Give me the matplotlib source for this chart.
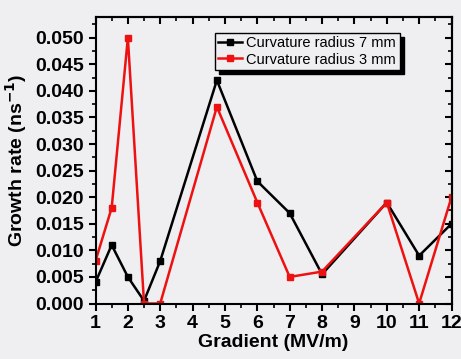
import matplotlib.pyplot as plt
from matplotlib.ticker import MultipleLocator, NullFormatter
import matplotlib.patheffects as pe

gradient = [1, 1.5, 2, 2.5, 3, 4.75, 6, 7, 8, 10, 11, 12]
rate_7mm = [0.004, 0.011, 0.005, 0.0005, 0.008, 0.042, 0.023, 0.017, 0.0055, 0.019, 0.009, 0.015]
rate_3mm = [0.008, 0.018, 0.050, 0.0, 0.0, 0.037, 0.019, 0.005, 0.006, 0.019, 0.0, 0.020]

bg = '#efeef1'
plt.rcParams['font.family'] = ['Liberation Sans', 'DejaVu Sans']

fig = plt.figure(figsize=(4.61, 3.59), dpi=100, facecolor=bg)
ax = fig.add_axes([95.5 / 461, 1 - 303.5 / 359, 356 / 461, 286.5 / 359])
ax.set_facecolor(bg)

ax.plot(gradient, rate_7mm, color='black', marker='s', markersize=5, lw=1.8,
        label='Curvature radius 7 mm')
ax.plot(gradient, rate_3mm, color='#ee1111', marker='s', markersize=5, lw=1.8,
        label='Curvature radius 3 mm')

ax.set_xlim(1, 12)
ax.set_ylim(0, 0.0539)
ax.xaxis.set_major_locator(MultipleLocator(1))
ax.xaxis.set_minor_locator(MultipleLocator(0.5))
ax.yaxis.set_major_locator(MultipleLocator(0.005))
ax.yaxis.set_minor_locator(MultipleLocator(0.0025))
ax.yaxis.set_major_formatter(plt.FormatStrFormatter('%.3f'))

ax.tick_params(which='major', direction='out', length=5, width=1.5, labelsize=14)
ax.tick_params(which='minor', direction='out', length=3, width=1.2)
ax.tick_params(axis='x', pad=3)
for lbl in ax.get_xticklabels() + ax.get_yticklabels():
    lbl.set_fontweight('bold')
for s in ax.spines.values():
    s.set_linewidth(1.5)

# inward ticks on top and right
top = ax.secondary_xaxis('top')
top.xaxis.set_major_locator(MultipleLocator(1))
top.xaxis.set_minor_locator(MultipleLocator(0.5))
top.xaxis.set_major_formatter(NullFormatter())
top.tick_params(which='major', direction='in', length=5, width=1.5)
top.tick_params(which='minor', direction='in', length=3, width=1.2)
right = ax.secondary_yaxis('right')
right.yaxis.set_major_locator(MultipleLocator(0.005))
right.yaxis.set_minor_locator(MultipleLocator(0.0025))
right.yaxis.set_major_formatter(NullFormatter())
right.tick_params(which='major', direction='in', length=5, width=1.5)
right.tick_params(which='minor', direction='in', length=3, width=1.2)
top.spines['top'].set_linewidth(1.5)
right.spines['right'].set_linewidth(1.5)

ax.set_xlabel('Gradient (MV/m)', fontsize=14, fontweight='bold', labelpad=2)
ax.set_ylabel('Growth rate (ns$^{\\mathbf{-1}}$)', fontsize=14, fontweight='bold', labelpad=4)

leg = ax.legend(loc='upper left', bbox_to_anchor=(0.335, 0.945), fontsize=10.5,
                frameon=True, fancybox=False, shadow={'color': 'black', 'alpha': 1.0, 'ox': 3, 'oy': -3},
                handlelength=1.6, handletextpad=0.3, borderpad=0.25, labelspacing=0.15,
                borderaxespad=0)
leg.get_frame().set_edgecolor('black')
leg.get_frame().set_linewidth(1.0)
leg.get_frame().set_facecolor(bg)

fig.savefig('out.png', dpi=100, facecolor=bg)
